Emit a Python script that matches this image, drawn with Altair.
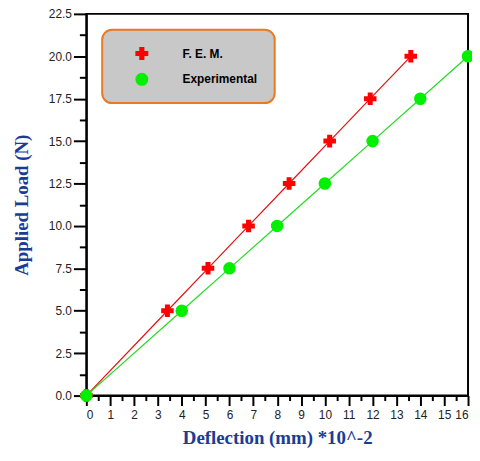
import altair as alt
import pandas as pd

# Data
loads = [0, 5, 7.5, 10, 12.5, 15, 17.5, 20]
fem_defl = [0, 3.4, 5.1, 6.8, 8.5, 10.2, 11.9, 13.6]
exp_defl = [0, 4, 6, 8, 10, 12, 14, 16]
series_names = ["F. E. M.", "Experimental"]
series_colors = ["#ff0000", "#00f000"]
line_colors = ["#e41010", "#22dd22"]
# major + minor tick positions
x_ticks = [i * 0.5 for i in range(33)]
y_ticks = [i * 1.25 for i in range(19)]

rows = []
for i, (s, xs) in enumerate(zip(series_names, [fem_defl, exp_defl])):
    for xv, yv in zip(xs, loads):
        rows.append({"series": s, "defl": xv, "load": yv, "order": i})
df = pd.DataFrame(rows)

x_axis = alt.Axis(
    values=x_ticks, labelOverlap=False, grid=False,
    labelExpr="datum.value % 1 ? '' : format(datum.value, 'd')",
    tickSize={"condition": {"test": "datum.value % 1 !== 0", "value": 5}, "value": 10},
    labelPadding=4, titlePadding=8,
)
y_axis = alt.Axis(
    values=y_ticks, labelOverlap=False, grid=False,
    labelExpr="datum.value % 2.5 ? '' : format(datum.value, '.1f')",
    tickSize={"condition": {"test": "datum.value % 2.5 !== 0", "value": 7}, "value": 13},
    labelPadding=2, titlePadding=17,
)
x_scale = alt.Scale(domain=[0, 16], nice=False, zero=False)
y_scale = alt.Scale(domain=[0, 22.5], nice=False)


def X():
    return alt.X("defl:Q", title="Deflection (mm) *10^-2", scale=x_scale, axis=x_axis)


def Y():
    return alt.Y("load:Q", title="Applied Load (N)", scale=y_scale, axis=y_axis)


layers = []
for s, c in zip(series_names, line_colors):
    layers.append(
        alt.Chart(df).transform_filter(alt.datum.series == s)
        .mark_line(strokeWidth=1.2, color=c).encode(x=X(), y=Y())
    )

points = alt.Chart(df).mark_point(filled=True, size=160, opacity=1).encode(
    x=X(), y=Y(),
    color=alt.Color("series:N", scale=alt.Scale(domain=series_names, range=series_colors),
                    legend=alt.Legend(title=None, orient="none", legendX=16, legendY=16)),
    shape=alt.Shape("series:N", scale=alt.Scale(domain=series_names, range=["cross", "circle"]),
                    legend=alt.Legend(title=None, orient="none", legendX=16, legendY=16)),
    order=alt.Order("order:Q"),
)

chart = alt.layer(*layers, points).properties(
    width=385, height=385,
    autosize=alt.AutoSizeParams(type="none"),
    padding={"left": 79, "top": 4, "right": 4, "bottom": 58},
).configure_view(
    stroke="black", strokeWidth=2
).configure_axis(
    domainColor="black", domainWidth=2, tickColor="black", tickWidth=2,
    labelFont="Liberation Sans", labelFontSize=12, labelColor="#222222",
    titleFont="Liberation Serif", titleFontSize=19, titleFontWeight="bold",
    titleColor="#1a3c96",
).configure_legend(
    fillColor="#c8c8c8", strokeColor="#e87a22", strokeWidth=2, cornerRadius=10,
    padding=17, symbolOffset=16, labelOffset=34, rowPadding=12,
    symbolSize=170, symbolStrokeWidth=0,
    labelFont="Liberation Sans", labelFontSize=12, labelFontWeight="bold",
    labelColor="black", labelLimit=200,
)

chart.save("out.html", embed_options={"renderer": "svg", "actions": False})
